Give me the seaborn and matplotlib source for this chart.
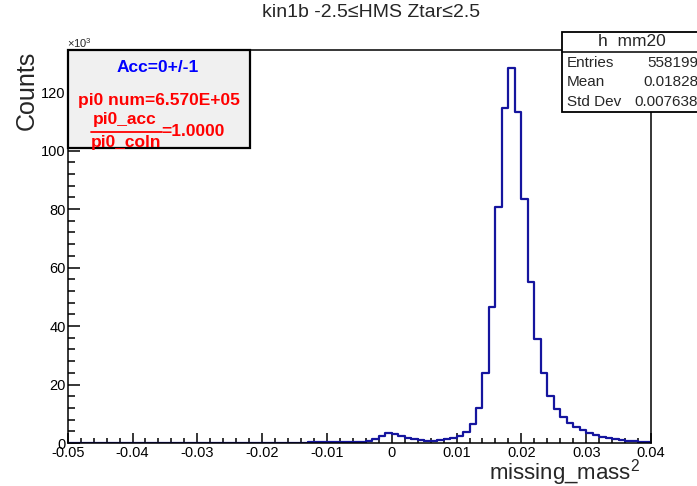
import matplotlib
matplotlib.use("Agg")
import matplotlib.pyplot as plt
from matplotlib.patches import Rectangle
from matplotlib.lines import Line2D
from matplotlib.ticker import MultipleLocator
import numpy as np
import pandas as pd
import seaborn as sns

# histogram h_mm20: 90 bins of width 0.001 from -0.05 to 0.04, counts in units of 10^3
x_lo, x_hi = -0.05, 0.04
counts_k = [
    0.05, 0.05, 0.05, 0.05, 0.05, 0.05, 0.05, 0.05, 0.05, 0.05,   # -0.050 .. -0.041
    0.06, 0.06, 0.06, 0.06, 0.06, 0.06, 0.06, 0.06, 0.06, 0.06,   # -0.040 .. -0.031
    0.08, 0.08, 0.08, 0.08, 0.08, 0.08, 0.08, 0.08, 0.08, 0.08,   # -0.030 .. -0.021
    0.10, 0.10, 0.12, 0.12, 0.14, 0.15, 0.17, 0.19, 0.22, 0.25,   # -0.020 .. -0.011
    0.28, 0.30, 0.33, 0.37, 0.42,                                 # -0.010 .. -0.006
    0.5, 0.7, 1.4, 2.4, 3.3,                                      # -0.005 .. -0.001
    3.1, 2.4, 1.7, 1.3, 0.9, 0.8, 0.8, 1.0, 1.3, 1.7,             # 0.000 .. 0.009
    2.4, 3.7, 6.5, 12.1, 24.0, 46.6, 80.8, 114.4, 128.1, 113.1,   # 0.010 .. 0.019
    83.3, 55.1, 35.4, 24.0, 16.1, 11.5, 8.8, 6.9, 5.6, 4.4,       # 0.020 .. 0.029
    3.5, 2.7, 2.2, 1.7, 1.4, 1.0, 0.8, 0.6, 0.5, 0.35,            # 0.030 .. 0.039
]
x_ticks = [-0.05, -0.04, -0.03, -0.02, -0.01, 0.0, 0.01, 0.02, 0.03, 0.04]
x_tick_labels = ["-0.05", "-0.04", "-0.03", "-0.02", "-0.01", "0", "0.01", "0.02", "0.03", "0.04"]
y_ticks = [0, 20, 40, 60, 80, 100, 120]
y_tick_labels = ["0", "20", "40", "60", "80", "100", "120"]

stat_names = ["Entries", "Mean", "Std Dev"]
stat_values = ["558199", "0.01828", "0.007638"]

sns.set_style("ticks")
plt.rcParams['font.family'] = ['Liberation Sans', 'DejaVu Sans']
plt.rcParams['mathtext.fontset'] = 'custom'
plt.rcParams['mathtext.rm'] = 'Liberation Sans'
plt.rcParams['mathtext.it'] = 'Liberation Sans'

W, H = 697, 486
fig = plt.figure(figsize=(W / 100, H / 100), dpi=100)
fig.patch.set_facecolor('white')

def fx(px):
    return px / W

def fy(py):
    return 1 - py / H

# axes frame in pixels: left 67.7, right 651, top 50, bottom 443
ax = fig.add_axes([fx(67.7), fy(443), fx(651) - fx(67.7), (443 - 50) / H])

edges = np.linspace(x_lo, x_hi, len(counts_k) + 1)
df = pd.DataFrame({"mm2": (edges[:-1] + edges[1:]) / 2, "counts": counts_k})
sns.histplot(data=df, x="mm2", weights="counts", bins=edges.tolist(), element="step",
             fill=False, color="#15159e", linewidth=1.6, ax=ax)

ax.set_xlim(x_lo, x_hi)
ax.set_ylim(0, 134.4)
ax.set_xticks(x_ticks, x_tick_labels)
ax.set_yticks(y_ticks, y_tick_labels)
ax.xaxis.set_minor_locator(MultipleLocator(0.002))
ax.yaxis.set_minor_locator(MultipleLocator(4))
ax.tick_params(which='both', direction='in', top=False, right=False, width=1.1,
               labelsize=10.5, colors='black')
ax.tick_params(axis='x', which='major', length=7, pad=2.5)
ax.tick_params(axis='x', which='minor', length=3.5)
ax.tick_params(axis='y', which='major', length=8.5, pad=1.5)
ax.tick_params(axis='y', which='minor', length=5)
for s in ax.spines.values():
    s.set_linewidth(1.1)
    s.set_color('black')
    s.set_visible(True)

ax.set_ylabel("Counts", fontsize=18, va='center')
ax.yaxis.set_label_coords(-0.0698, 0.896)
ax.set_xlabel("missing_mass$^{2}$", fontsize=16, ha='right', va='baseline')
ax.xaxis.set_label_coords(0.981, -0.0935)

fig.text(fx(371), fy(16.7), "kin1b -2.5\u2264HMS Ztar\u22642.5", fontsize=14,
         ha='center', va='baseline')
fig.text(fx(67), fy(43.5), "\u00d710$^{3}$", fontsize=8, ha='left', va='center')

# stats box (runs off the right edge like the original)
fig.patches.append(Rectangle((fx(561.7), fy(111.7)), fx(702) - fx(561.7), (111.7 - 32.3) / H,
                             transform=fig.transFigure, facecolor='white', edgecolor='black',
                             linewidth=1.3, zorder=5))
fig.lines.append(Line2D([fx(561.7), fx(702)], [fy(51.7), fy(51.7)], transform=fig.transFigure,
                        color='black', linewidth=1.1, zorder=6))
fig.text(fx(632), fy(42), "h  mm20", fontsize=12.5, ha='center', va='center', zorder=7)
for i, (name, val) in enumerate(zip(stat_names, stat_values)):
    yy = 63.3 + i * 19.2
    fig.text(fx(567), fy(yy), name, fontsize=11, ha='left', va='center', zorder=7)
    fig.text(fx(698), fy(yy), val, fontsize=11, ha='right', va='center', zorder=7)

# acceptance pave text
fig.patches.append(Rectangle((fx(68.3), fy(147.7)), fx(250) - fx(68.3), (147.7 - 50) / H,
                             transform=fig.transFigure, facecolor='#f0f0f0', edgecolor='black',
                             linewidth=1.6, zorder=5))
fig.text(fx(158), fy(68), "Acc=0+/-1", fontsize=12.5, fontweight='bold', color='#0000ff',
         ha='center', va='center', zorder=7)
fig.text(fx(158.5), fy(100), "pi0 num=6.570E+05", fontsize=12.5, fontweight='bold',
         color='#ff0000', ha='center', va='center', zorder=7)
fig.text(fx(125), fy(119), "pi0_acc", fontsize=12.5, fontweight='bold', color='#ff0000',
         ha='center', va='center', zorder=7)
fig.text(fx(126), fy(142), "pi0_coln", fontsize=12.5, fontweight='bold', color='#ff0000',
         ha='center', va='center', zorder=7)
fig.lines.append(Line2D([fx(90.7), fx(161.7)], [fy(132.5), fy(132.5)], transform=fig.transFigure,
                        color='#ff0000', linewidth=1.3, zorder=7))
fig.text(fx(161.5), fy(131), "=1.0000", fontsize=12.5, fontweight='bold', color='#ff0000',
         ha='left', va='center', zorder=7)

fig.savefig("out.png", dpi=100)
